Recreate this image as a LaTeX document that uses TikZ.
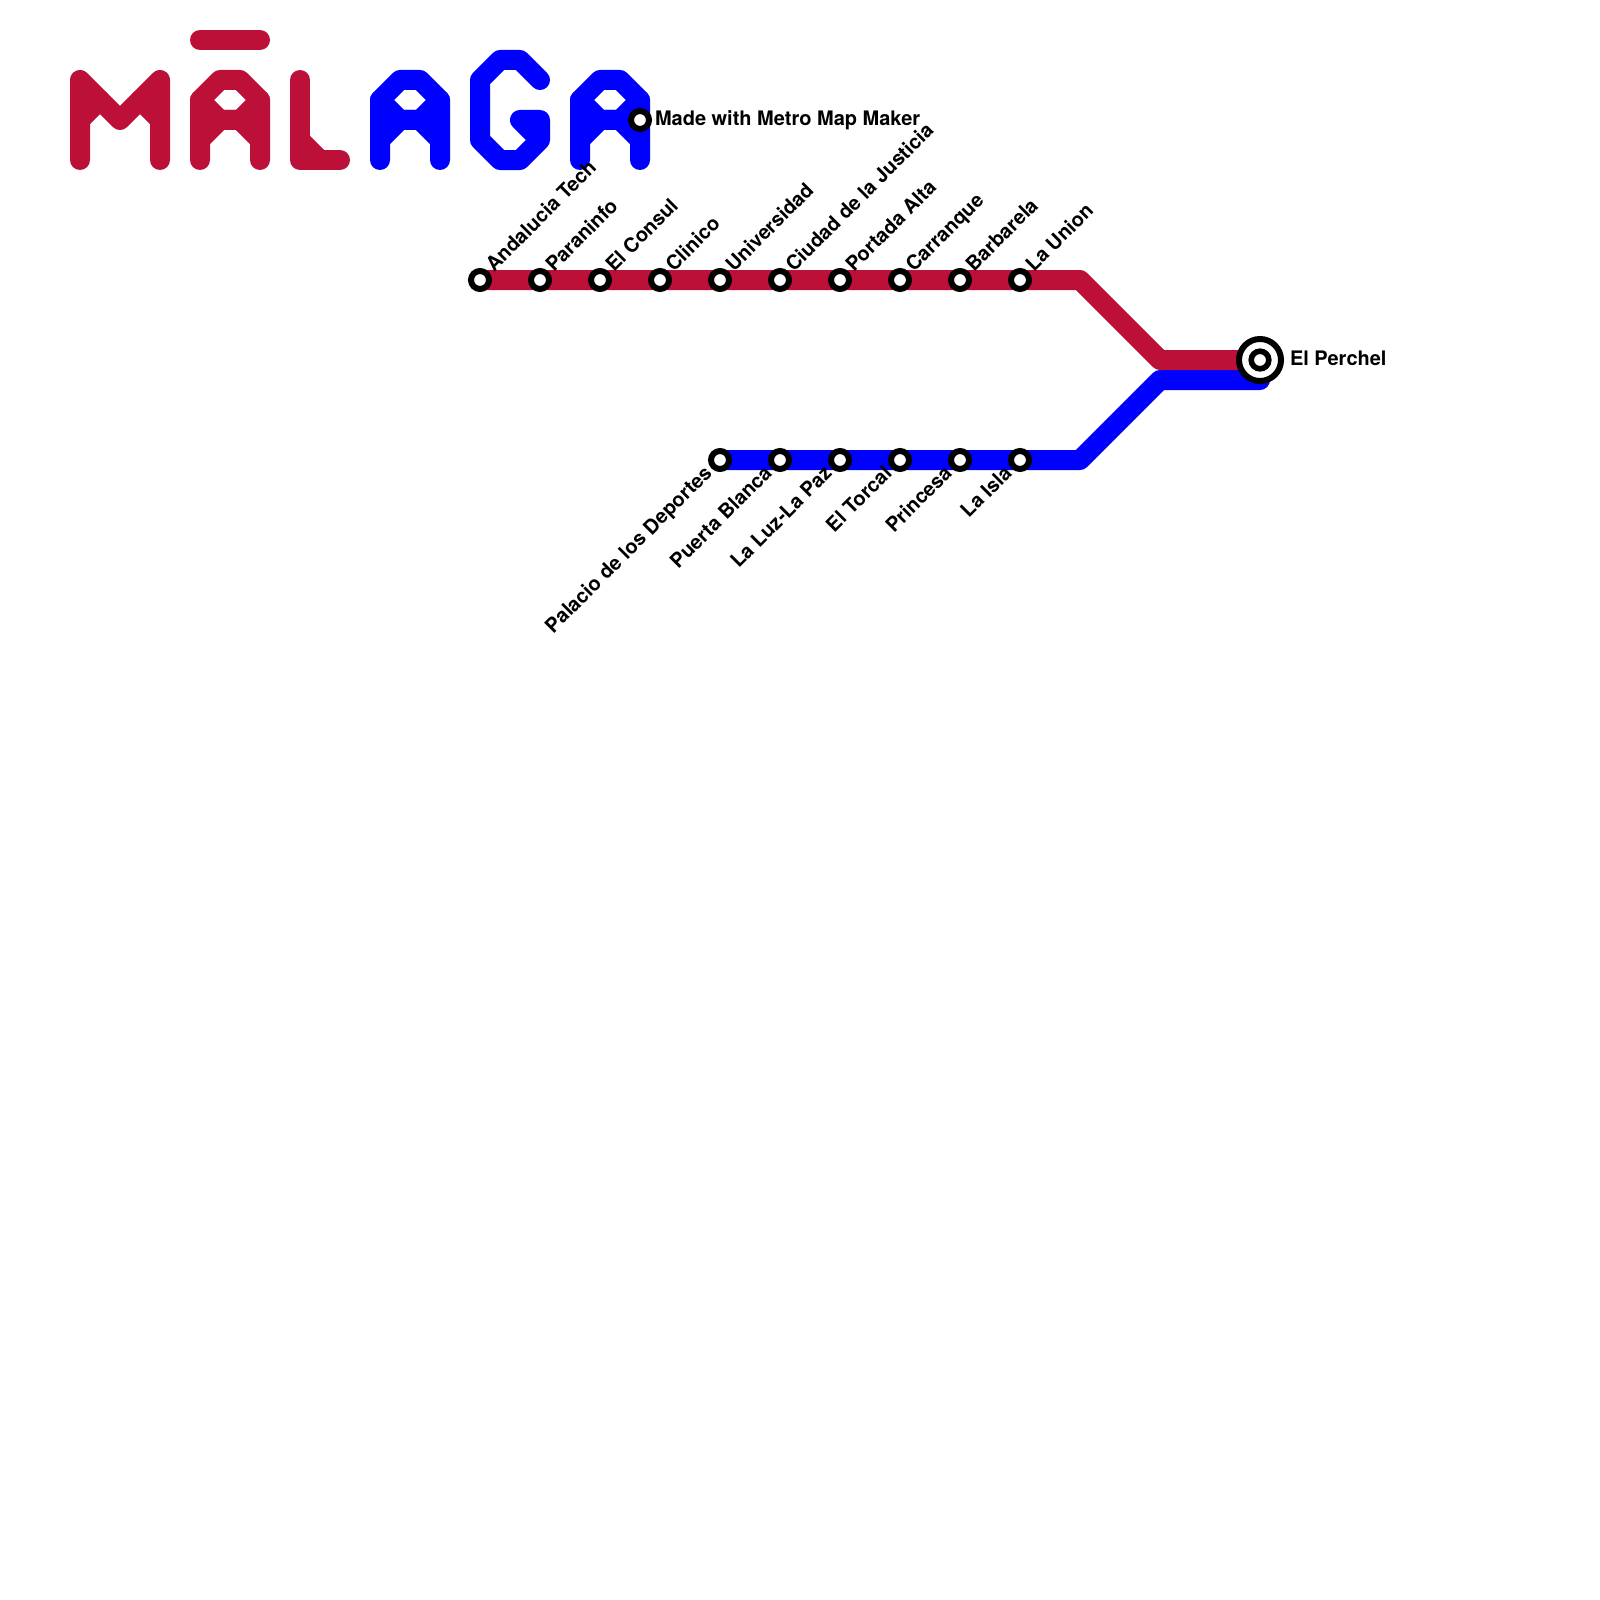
\documentclass[tikz,border=0pt]{standalone}
\usepackage{fontspec}
\setmainfont{TeX Gyre Heros}
\definecolor{lred}{HTML}{BD1038}
\definecolor{lblue}{HTML}{0000FF}
\tikzset{
  mline/.style={line width=20pt,line cap=round,line join=round},
  stn/.style={circle,draw=black,fill=white,line width=6pt,minimum size=18pt,inner sep=0pt},
  hubouter/.style={circle,draw=black,fill=white,line width=6pt,minimum size=42pt,inner sep=0pt},
  hubinner/.style={circle,draw=black,fill=white,line width=5.6pt,minimum size=17.6pt,inner sep=0pt},
  lab/.style={font=\bfseries\fontsize{20pt}{24pt}\selectfont,text=black,inner sep=0pt,outer sep=0pt},
  up/.style={lab,rotate=45,anchor=base west},
  down/.style={lab,rotate=45,anchor=base east},
  flat/.style={lab,anchor=base west}
}
\begin{document}
\begin{tikzpicture}[x=1pt,y=-1pt]
\useasboundingbox (0,0) rectangle (1600,1600);
% lettering
\begin{scope}[mline,draw=lred]
\draw (80,160)--(80,80)--(120,120)--(160,80)--(160,160);
\draw (80,120)--(100,100);
\draw (160,120)--(140,100);
\draw (200,40)--(260,40);
\draw (200,160)--(200,100)--(220,80)--(240,80)--(260,100)--(260,160);
\draw (200,100)--(220,120)--(240,120)--(260,100);
\draw (200,140)--(220,120)--(240,120)--(260,140);
\draw (300,80)--(300,160)--(340,160);
\draw (300,140)--(320,160);
\end{scope}
\begin{scope}[mline,draw=lblue]
\draw (380,160)--(380,100)--(400,80)--(420,80)--(440,100)--(440,160);
\draw (380,100)--(400,120)--(420,120)--(440,100);
\draw (380,140)--(400,120)--(420,120)--(440,140);
\draw (540,80)--(520,60)--(500,60)--(480,80)--(480,140)--(500,160)--(520,160)--(540,140)--(540,120)--(520,120)--(540,140);
\draw (580,160)--(580,100)--(600,80)--(620,80)--(640,100)--(640,160);
\draw (580,100)--(600,120)--(620,120)--(640,100);
\draw (580,140)--(600,120)--(620,120)--(640,140);
\end{scope}
% route bend points
\coordinate (rb1) at (1080,280);
\coordinate (rb2) at (1160,360);
\coordinate (bb1) at (1080,460);
\coordinate (bb2) at (1160,380);
\coordinate (bend) at (1260,380);
\coordinate (r1) at (480,280);
\coordinate (b1) at (720,460);
\coordinate (hubc) at (1260,360);
\draw[mline,draw=lblue] (b1)--(bb1)--(bb2)--(bend);
\draw[mline,draw=lred] (r1)--(rb1)--(rb2)--(hubc);
% stations
\node[stn] (s1) at (480,280) {};
\node[stn] (s2) at (540,280) {};
\node[stn] (s3) at (600,280) {};
\node[stn] (s4) at (660,280) {};
\node[stn] (s5) at (720,280) {};
\node[stn] (s6) at (780,280) {};
\node[stn] (s7) at (840,280) {};
\node[stn] (s8) at (900,280) {};
\node[stn] (s9) at (960,280) {};
\node[stn] (s10) at (1020,280) {};
\node[stn] (t1) at (720,460) {};
\node[stn] (t2) at (780,460) {};
\node[stn] (t3) at (840,460) {};
\node[stn] (t4) at (900,460) {};
\node[stn] (t5) at (960,460) {};
\node[stn] (t6) at (1020,460) {};
\node[stn] (mk) at (640,120) {};
\node[hubouter] (huba) at (1260,360) {};
\node[hubinner] (hubb) at (1260,360) {};
% labels
\node[up] (ls1) at (494,272.5) {Andalucia Tech};
\node[up] (ls2) at (554,272.5) {Paraninfo};
\node[up] (ls3) at (614,272.5) {El Consul};
\node[up] (ls4) at (674,272.5) {Clinico};
\node[up] (ls5) at (734,272.5) {Universidad};
\node[up] (ls6) at (794,272.5) {Ciudad de la Justicia};
\node[up] (ls7) at (854,272.5) {Portada Alta};
\node[up] (ls8) at (914,272.5) {Carranque};
\node[up] (ls9) at (974,272.5) {Barbarela};
\node[up] (ls10) at (1034,272.5) {La Union};
\node[down] (lt1) at (713,474.5) {Palacio de los Deportes};
\node[down] (lt2) at (773,474.5) {Puerta Blanca};
\node[down] (lt3) at (833,474.5) {La Luz-La Paz};
\node[down] (lt4) at (893,474.5) {El Torcal};
\node[down] (lt5) at (953,474.5) {Princesa};
\node[down] (lt6) at (1013,474.5) {La Isla};
\node[flat] (lmk) at (655,125.5) {Made with Metro Map Maker};
\node[flat] (lhub) at (1290,365) {El Perchel};
\end{tikzpicture}
\end{document}
